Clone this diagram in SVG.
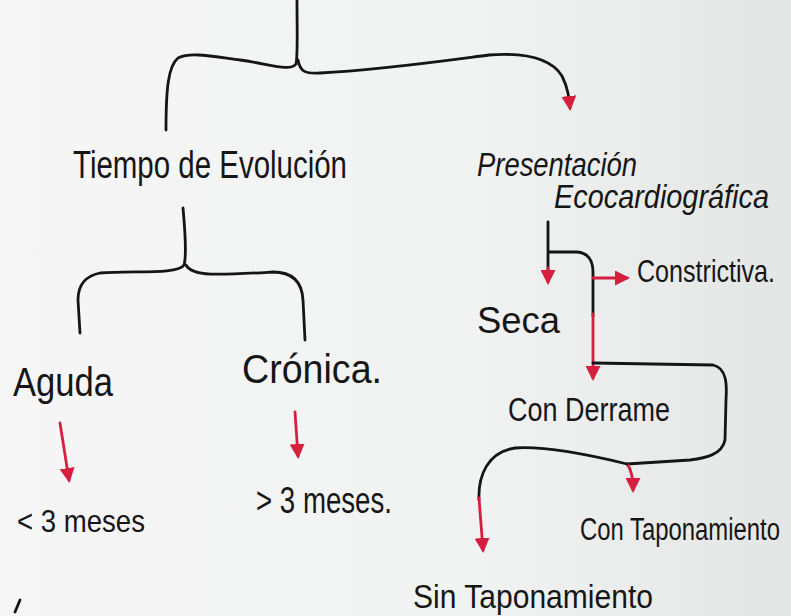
<svg xmlns="http://www.w3.org/2000/svg" width="791" height="616" viewBox="0 0 791 616">
  <defs>
    <linearGradient id="paper" x1="0" y1="0" x2="1" y2="0">
      <stop offset="0" stop-color="#f6f6f6"/>
      <stop offset="0.6" stop-color="#f1f2f2"/>
      <stop offset="1" stop-color="#e4e6e6"/>
    </linearGradient>
    <marker id="ah" viewBox="0 0 10 10" refX="8" refY="5" markerWidth="15" markerHeight="15" markerUnits="userSpaceOnUse" orient="auto">
      <path d="M0,0 L10,5 L0,10 z" fill="#d61f3f"/>
    </marker>
    <style>
      .lbl { font-family: "Liberation Sans", Arial, sans-serif; fill: #161616; }
      .ink { fill: none; stroke: #151515; stroke-width: 2.8; stroke-linecap: round; stroke-linejoin: round; }
      .red { fill: none; stroke: #d61f3f; stroke-width: 2.8; stroke-linecap: round; stroke-linejoin: round; }
    </style>
  </defs>

  <rect width="791" height="616" fill="url(#paper)"/>

  <!-- connectors -->
  <g id="connectors">
    <!-- top brace -->
    <path class="ink" d="M297,0 C297,30 298,55 296,64 C290,72 270,64 240,60 C210,56 190,52 178,58 C168,66 166,90 166,130"/>
    <path class="ink" d="M298,60 C300,72 306,74 320,73 C380,70 450,60 489,55 C530,52 552,60 562,76 C568,88 569,98 570,108" marker-end="url(#ah)"/>
    <!-- second brace -->
    <path class="ink" d="M183,208 C185,230 187,255 184,265 C178,275 130,270 100,273 C85,276 78,285 78,300 L80,333"/>
    <path class="ink" d="M186,265 C192,277 220,275 273,272 C292,272 302,282 303,300 L305,340"/>
    <!-- Aguda / Crónica arrows -->
    <path class="red" d="M60,423 L69,480" marker-end="url(#ah)"/>
    <path class="red" d="M295,412 L298,456" marker-end="url(#ah)"/>
    <!-- Seca -->
    <path class="ink" d="M548,222 L548,270"/>
    <path class="red" d="M548,268 L548,282" marker-end="url(#ah)"/>
    <path class="ink" d="M549,252 L577,252 C588,253 593,260 593,272 L593,316"/>
    <path class="red" d="M593,278 L627,278" marker-end="url(#ah)"/>
    <path class="red" d="M593,314 L593,378" marker-end="url(#ah)"/>
    <!-- Con Derrame loop -->
    <path class="ink" d="M593,363 L713,365 C727,368 727,385 726,400 L725,440 C722,455 705,458 690,460 L627,464"/>
    <path class="red" d="M627,464 C632,470 633,480 633,490" marker-end="url(#ah)"/>
    <path class="ink" d="M627,464 C590,455 545,446 515,448 C488,452 478,475 479,500"/>
    <path class="red" d="M479,498 L483,550" marker-end="url(#ah)"/>
    <!-- stray stroke at the corner -->
    <path class="ink" d="M20,600 L15,612"/>
  </g>

  <g id="tiempo"><text class="lbl" x="73" y="178" font-size="38" textLength="274" lengthAdjust="spacingAndGlyphs">Tiempo de Evolución</text></g>
  <g id="presentacion">
    <text class="lbl" x="477" y="176" font-size="34" font-style="italic" textLength="160" lengthAdjust="spacingAndGlyphs">Presentación</text>
    <text class="lbl" x="554" y="208" font-size="34" font-style="italic" textLength="215" lengthAdjust="spacingAndGlyphs">Ecocardiográfica</text>
  </g>
  <g id="aguda"><text class="lbl" x="13" y="396" font-size="40" textLength="100" lengthAdjust="spacingAndGlyphs">Aguda</text></g>
  <g id="cronica"><text class="lbl" x="242" y="383" font-size="40" textLength="140" lengthAdjust="spacingAndGlyphs">Crónica.</text></g>
  <g id="menos3"><text class="lbl" x="17" y="532" font-size="32" textLength="128" lengthAdjust="spacingAndGlyphs">&lt; 3 meses</text></g>
  <g id="mas3"><text class="lbl" x="256" y="513" font-size="36" textLength="136" lengthAdjust="spacingAndGlyphs">&gt; 3 meses.</text></g>
  <g id="seca"><text class="lbl" x="477" y="333" font-size="36" textLength="83" lengthAdjust="spacingAndGlyphs">Seca</text></g>
  <g id="constrictiva"><text class="lbl" x="637" y="282" font-size="32" textLength="138" lengthAdjust="spacingAndGlyphs">Constrictiva.</text></g>
  <g id="derrame"><text class="lbl" x="508" y="421" font-size="33" textLength="162" lengthAdjust="spacingAndGlyphs">Con Derrame</text></g>
  <g id="con-tapon"><text class="lbl" x="580" y="540" font-size="31" textLength="200" lengthAdjust="spacingAndGlyphs">Con Taponamiento</text></g>
  <g id="sin-tapon"><text class="lbl" x="413" y="608" font-size="33" textLength="240" lengthAdjust="spacingAndGlyphs">Sin Taponamiento</text></g>
</svg>
